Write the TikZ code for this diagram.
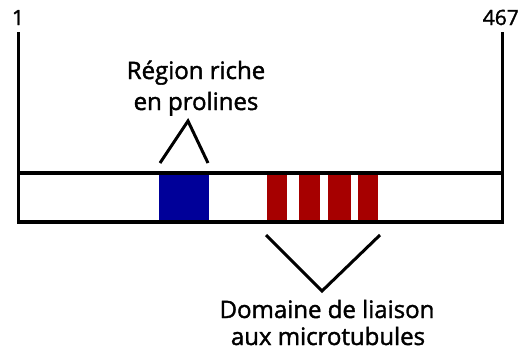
\documentclass[tikz,border=0pt]{standalone}
\usepackage{fontspec}
\setmainfont{Open Sans}
\newfontfamily\labelfont{Open Sans}[FakeBold=1.6]
\begin{document}
\begin{tikzpicture}[x=1pt,y=-1pt,
  lbl/.style={anchor=base,inner sep=0pt,font=\labelfont\fontsize{24}{28}\selectfont},
  num/.style={inner sep=0pt,font=\labelfont\fontsize{21}{24}\selectfont},
  frame/.style={line width=3.5pt},
  tick/.style={line width=3pt},
  caret/.style={line width=3pt},
  pro/.style={fill=blue!60!black,draw=none},
  mtb/.style={fill=red!65!black,draw=none}]
\useasboundingbox (0,0) rectangle (525,356);
% domains
\fill[pro] (159,173) rectangle (209,223);
\fill[mtb] (267,173) rectangle (287,223);
\fill[mtb] (299,173) rectangle (320,223);
\fill[mtb] (328,173) rectangle (351,223);
\fill[mtb] (358,173) rectangle (378,223);
% protein outline
\draw[frame] (18,173) -- (502,173);
\draw[frame] (18,222) -- (502,222);
% end markers
\coordinate (nt) at (18,32);
\coordinate (ntb) at (18,223.5);
\coordinate (ct) at (502,32);
\coordinate (ctb) at (502,223.5);
\draw[tick] (nt) -- (ntb);
\draw[tick] (ct) -- (ctb);
\node[num,anchor=base] (n1) at (18,25) {1};
\node[num,anchor=base east] (n467) at (519,25) {467};
% proline-rich region
\node[lbl] (pr1) at (196,79) {Région riche};
\node[lbl] (pr2) at (196,110) {en prolines};
\coordinate (pa) at (188,121);
\coordinate (pl) at (160,163);
\coordinate (prr) at (208,163);
\draw[caret] (pl) -- (pa) -- (prr);
% microtubule-binding domain
\coordinate (ml) at (266,235);
\coordinate (mv) at (322,291);
\coordinate (mr) at (380,235);
\draw[caret] (ml) -- (mv) -- (mr);
\node[lbl] (mb1) at (327,318) {Domaine de liaison};
\node[lbl] (mb2) at (328,345) {aux microtubules};
\end{tikzpicture}
\end{document}
